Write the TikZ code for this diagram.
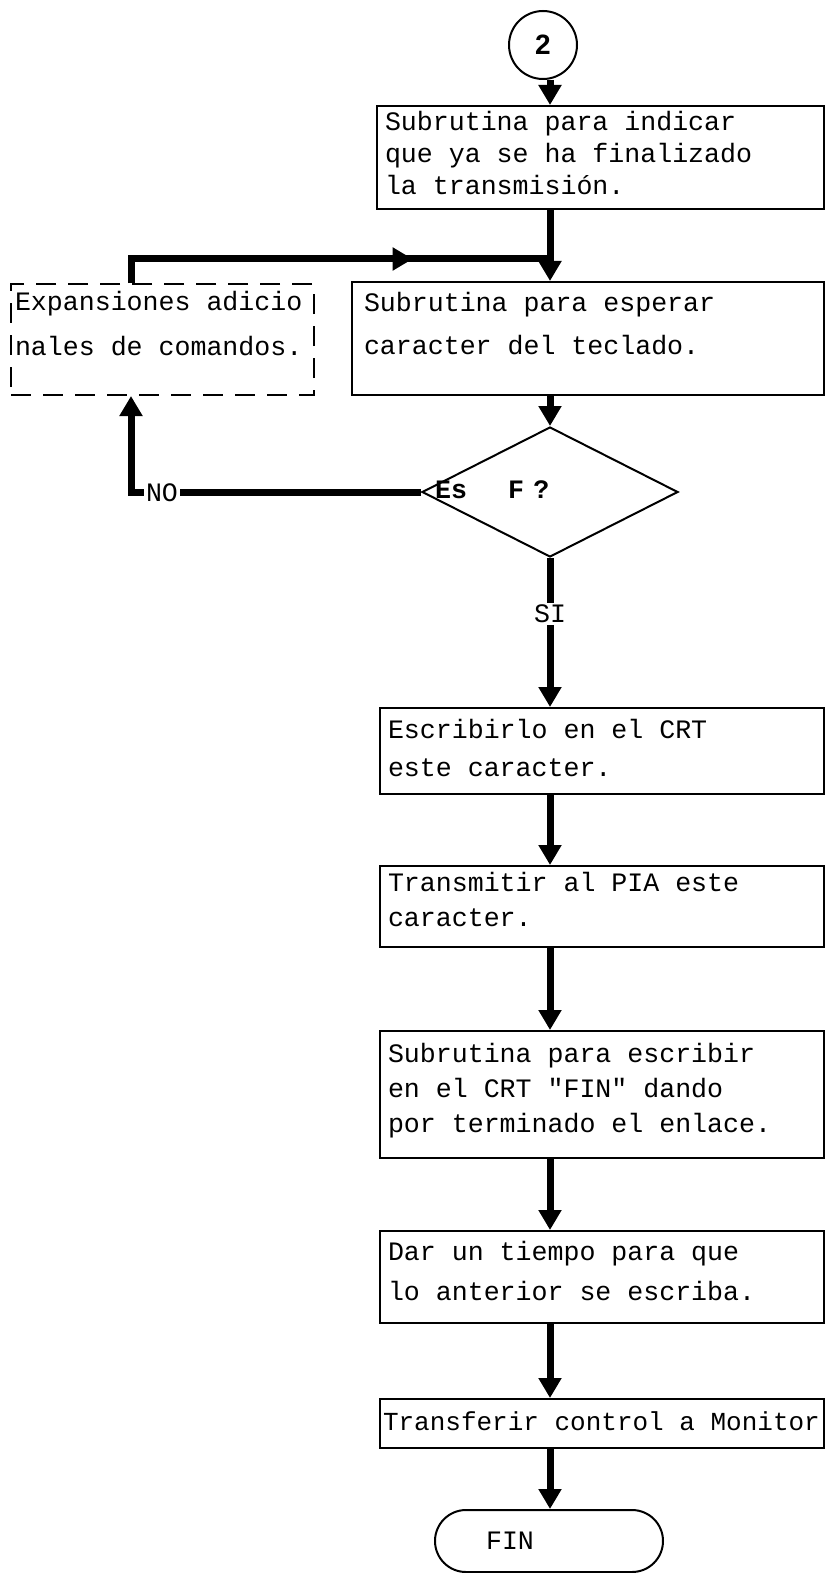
\documentclass[tikz,border=0pt]{standalone}
\usepackage{fontspec}
\usetikzlibrary{arrows.meta,shapes.geometric,decorations.markings}
\newfontfamily\tyfont{Liberation Mono}
\newfontfamily\numfont{Liberation Sans}
% typewriter text
\newcommand\tw[2]{\tyfont\fontsize{#1}{#2}\selectfont}
% one typewriter cell of blank space between words
\newcommand\ws{\kern0.6em}
% invisible rule that deepens the last line of a box
\newcommand\lowstrut[1]{\rule[-#1]{0pt}{0pt}}

\begin{document}
\begin{tikzpicture}[x=0.5pt,y=-0.5pt,
  every node/.style={font=\tw{13.3}{17.5}},
  box/.style={draw,line width=1pt,anchor=north west,inner xsep=4pt,inner ysep=0pt,align=left},
  tip/.style={-{Triangle[width=11pt,length=10pt]}},
  wire/.style={line width=3.5pt},
  flow/.style={wire,tip},
  lbl/.style={fill=white,inner sep=1pt}
]
\useasboundingbox (0,0) rectangle (826,1573);

% connector "2" on top
\node[draw,circle,line width=1pt,minimum size=34pt,inner sep=0pt,
      font=\numfont\bfseries\fontsize{14}{14}\selectfont] (c) at (543,45) {2};

% process boxes
\node[box,text width=215.5pt,minimum height=51.5pt,font=\tw{13.3}{16}] (b1) at (376,105)
  {Subrutina\ws para\ws indicar\\que\ws ya\ws se\ws ha\ws finalizado\\la\ws transmisión.\lowstrut{4.5pt}};
\node[box,inner xsep=6pt,text width=224pt,minimum height=56.5pt,font=\tw{13.3}{21.5}] (b2) at (351,281)
  {Subrutina\ws para\ws esperar\\caracter\ws del\ws teclado.\lowstrut{15pt}};
\node[box,dash pattern=on 10pt off 6pt,inner xsep=2pt,text width=147.5pt,minimum height=55.5pt,
      font=\tw{13.3}{22.5}] (exp) at (10,283)
  {Expansiones\ws adicio\\nales\ws de\ws comandos.\lowstrut{16pt}};

% decision
\node[diamond,draw,line width=1pt,minimum width=128pt,minimum height=65pt,inner sep=0pt] (dec) at (550,492) {};
\node[anchor=west,font=\tw{13.3}{17.5}\bfseries] (esf) at (428,490) {Es\kern1.55em F\kern0.35em?};

\node[box,text width=214pt,minimum height=43pt,font=\tw{13.3}{19}] (b3) at (379,707)
  {Escribirlo\ws en\ws el\ws CRT\\este\ws caracter.\lowstrut{3pt}};
\node[box,text width=214pt,minimum height=40.5pt] (b4) at (379,865)
  {Transmitir\ws al\ws PIA\ws este\\caracter.\lowstrut{7pt}};
\node[box,text width=214pt,minimum height=63.5pt] (b5) at (379,1030)
  {Subrutina\ws para\ws escribir\\en\ws el\ws CRT\ws "FIN"\ws dando\\por\ws terminado\ws el\ws enlace.\lowstrut{6.7pt}};
\node[box,text width=214pt,minimum height=46pt,font=\tw{13.3}{20}] (b6) at (379,1230)
  {Dar\ws un\ws tiempo\ws para\ws que\\lo\ws anterior\ws se\ws escriba.\lowstrut{6pt}};
\node[box,inner xsep=1.5pt,text width=219pt,minimum height=24.5pt,font=\tw{13}{17}] (b7) at (379,1398)
  {Transferir\ws control\ws a\ws Monitor\lowstrut{2pt}};

% terminal
\node[draw,line width=1pt,rounded corners=15.5pt,minimum width=114pt,minimum height=31pt,inner sep=0pt] (fin) at (549,1541) {FIN\kern39pt};

% main flow
\draw[flow] (c.south -| dec.north) -- (b1.north -| dec.north);
\coordinate (j) at (550,259);
\draw[wire] (b1.south -| dec.north) -- (j);
\draw[flow] (j) -- (b2.north -| dec.north);
\draw[flow] (b2.south -| dec.north) -- (dec.north);

% return path from the expansions box
\coordinate (fb) at (131,259);
\draw[wire,postaction={decorate},
      decoration={markings,mark=at position 0.69 with {\arrow{Triangle[width=11pt,length=10pt]}}}]
  (exp.north -| fb) -- (fb) -- (j);

% NO branch
\coordinate (nc) at (131,492);
\draw[flow] (dec.west) -- (nc) -- (exp.south -| nc);
\node[lbl] (no) at (162,493) {NO};

% SI branch and the rest of the column
\draw[flow] (dec.south) -- (b3.north -| dec.south);
\node[lbl] (si) at (550,614) {SI};
\draw[flow] (b3.south -| dec.south) -- (b4.north -| dec.south);
\draw[flow] (b4.south -| dec.south) -- (b5.north -| dec.south);
\draw[flow] (b5.south -| dec.south) -- (b6.north -| dec.south);
\draw[flow] (b6.south -| dec.south) -- (b7.north -| dec.south);
\draw[flow] (b7.south -| dec.south) -- (fin.north -| dec.south);
\end{tikzpicture}
\end{document}
